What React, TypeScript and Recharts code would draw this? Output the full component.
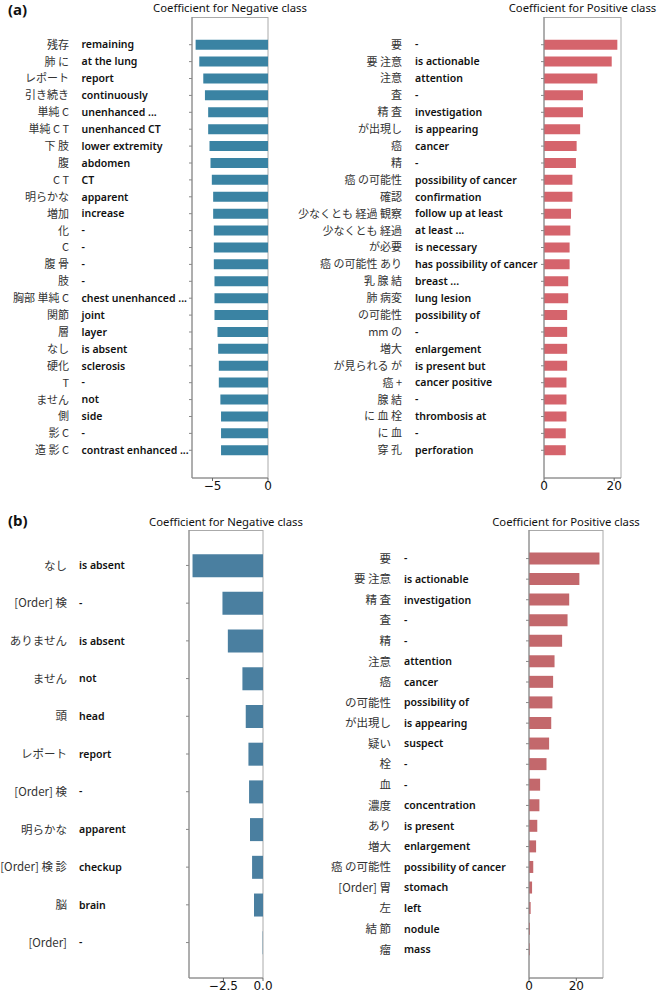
import React from 'react';
import { BarChart, Bar, XAxis, YAxis, CartesianGrid } from 'recharts';

// ---------- (a) Negative class ----------
const aNegJa = ['残存', '肺 に', 'レポート', '引き続き', '単純 C', '単純 C T', '下 肢', '腹', 'C T', '明らかな', '増加', '化', 'C', '腹 骨', '肢', '胸部 単純 C', '関節', '層', 'なし', '硬化', 'T', 'ません', '側', '影 C', '造 影 C'];
const aNegEn = ['remaining', 'at the lung', 'report', 'continuously', 'unenhanced ...', 'unenhanced CT', 'lower extremity', 'abdomen', 'CT', 'apparent', 'increase', '-', '-', '-', '-', 'chest unenhanced ...', 'joint', 'layer', 'is absent', 'sclerosis', '-', 'not', 'side', '-', 'contrast enhanced ...'];
const aNegVal = [-6.52, -6.19, -5.83, -5.68, -5.39, -5.39, -5.27, -5.18, -5.06, -4.94, -4.94, -4.88, -4.88, -4.88, -4.82, -4.82, -4.82, -4.55, -4.49, -4.43, -4.43, -4.29, -4.23, -4.23, -4.23];
const aNegTicks = [-5, 0];

// ---------- (a) Positive class ----------
const aPosJa = ['要', '要 注意', '注意', '査', '精 査', 'が出現し', '癌', '精', '癌 の可能性', '確認', '少なくとも 経過 観察', '少なくとも 経過', 'が必要', '癌 の可能性 あり', '乳 腺 結', '肺 病変', 'の可能性', 'mm の', '増大', 'が見られる が', '癌 +', '腺 結', 'に 血 栓', 'に 血', '穿 孔'];
const aPosEn = ['-', 'is actionable', 'attention', '-', 'investigation', 'is appearing', 'cancer', '-', 'possibility of cancer', 'confirmation', 'follow up at least', 'at least ...', 'is necessary', 'has possibility of cancer', 'breast ...', 'lung lesion', 'possibility of', '-', 'enlargement', 'is present but', 'cancer positive', '-', 'thrombosis at', '-', 'perforation'];
const aPosVal = [20.9, 19.3, 15.2, 11.1, 11.1, 10.3, 9.3, 9.1, 8.1, 8.1, 7.7, 7.5, 7.3, 7.3, 6.9, 6.9, 6.6, 6.6, 6.6, 6.6, 6.4, 6.4, 6.4, 6.2, 6.2];
const aPosTicks = [0, 20];

// ---------- (b) Negative class ----------
const bNegJa = ['なし', '[Order] 検', 'ありません', 'ません', '頭', 'レポート', '[Order]  検', '明らかな', '[Order]  検 診', '脳', '[Order]'];
const bNegEn = ['is absent', '-', 'is absent', 'not', 'head', 'report', '-', 'apparent', 'checkup', 'brain', '-'];
const bNegVal = [-4.45, -2.56, -2.22, -1.3, -1.09, -0.92, -0.88, -0.82, -0.69, -0.57, -0.02];
const bNegTicks = [-2.5, 0];

// ---------- (b) Positive class ----------
const bPosJa = ['要', '要 注意', '精 査', '査', '精', '注意', '癌', 'の可能性', 'が出現し', '疑い', '栓', '血', '濃度', 'あり', '増大', '癌 の可能性', '[Order] 胃', '左', '結 節', '瘤'];
const bPosEn = ['-', 'is actionable', 'investigation', '-', '-', 'attention', 'cancer', 'possibility of', 'is appearing', 'suspect', '-', '-', 'concentration', 'is present', 'enlargement', 'possibility of cancer', 'stomach', 'left', 'nodule', 'mass'];
const bPosVal = [29.8, 21.3, 17.0, 16.3, 14.0, 10.8, 10.2, 9.9, 9.4, 8.5, 7.4, 4.7, 4.4, 3.5, 3.0, 1.8, 1.3, 0.7, 0.4, 0.3];
const bPosTicks = [0, 20];

const JP_FONT = '"Noto Sans CJK JP", "Noto Sans", sans-serif';
const EN_FONT = '"Noto Sans", "Open Sans", sans-serif';
const NUM_FONT = '"DejaVu Sans", sans-serif';

const fmtInt = (v: number) => (v < 0 ? '\u2212' + Math.abs(v) : String(v));
const fmtDec = (v: number) => (v < 0 ? '\u2212' + Math.abs(v).toFixed(1) : v.toFixed(1));

interface PanelProps {
  ja: string[];
  en: string[];
  vals: number[];
  ticks: number[];
  fmt: (v: number) => string;
  color: string;
  title: string;
  left: number;
  top: number;
  width: number;
  height: number;
  mTop: number;
  yWidth: number;
  mRight: number;
  xHeight: number;
  mBottom: number;
  jaX: number;
  enX: number;
  titleY: number;
  jaSize: number;
}

function Panel(p: PanelProps) {
  const n = p.vals.length;
  const data = p.vals.map((v, i) => ({ k: String(i), v }));
  const neg = Math.min(...p.vals) < 0;
  const domain: [number, number] = neg ? [Math.min(...p.vals) * 1.05, 0] : [0, Math.max(...p.vals) * 1.05];
  const plotH = p.height - p.mTop - p.mBottom - p.xHeight;
  const unit = plotH / (1.1 * (n - 0.2));
  const pad = (0.05 * (n - 0.2) - 0.1) * unit;
  const plotW = p.width - p.yWidth - p.mRight;
  const titleCenter = p.left + p.yWidth + plotW / 2;

  const Tick = (props: any) => {
    const idx = Number(props.payload.value);
    return (
      <g>
        <text x={p.jaX} y={props.y} dy="0.36em" textAnchor="end" fontFamily={JP_FONT} fontSize={p.jaSize} fill="#333">
          {p.ja[idx]}
        </text>
        <text x={p.enX} y={props.y} dy="0.36em" textAnchor="start" fontFamily={EN_FONT} fontWeight={600} fontSize={10.5} fill="#111">
          {p.en[idx]}
        </text>
      </g>
    );
  };

  return (
    <>
      <div
        style={{
          position: 'absolute',
          left: titleCenter - 110,
          top: p.titleY - 8,
          width: 220,
          height: 16,
          lineHeight: '16px',
          textAlign: 'center',
          fontFamily: EN_FONT,
          fontSize: 11.3,
          color: '#111',
          whiteSpace: 'nowrap',
        }}
      >
        {p.title}
      </div>
      <div style={{ position: 'absolute', left: p.left, top: p.top }}>
        <BarChart
          width={p.width}
          height={p.height}
          data={data}
          layout="vertical"
          barCategoryGap="20%"
          margin={{ top: p.mTop, right: p.mRight, bottom: p.mBottom, left: 0 }}
        >
          <CartesianGrid
            stroke="#aaa"
            strokeWidth={1}
            horizontalCoordinatesGenerator={({ offset }: any) => [offset.top + 0.5, offset.top + offset.height]}
            verticalCoordinatesGenerator={({ offset }: any) => [offset.left, offset.left + offset.width]}
          />
          <XAxis
            type="number"
            dataKey="v"
            domain={domain}
            ticks={p.ticks}
            tickFormatter={p.fmt}
            height={p.xHeight}
            allowDataOverflow
            tickSize={3}
            tickMargin={0}
            axisLine={{ stroke: '#888' }}
            tickLine={{ stroke: '#666' }}
            tick={{ fontFamily: NUM_FONT, fontSize: 12, fill: '#111' }}
          />
          <YAxis
            type="category"
            dataKey="k"
            width={p.yWidth}
            interval={0}
            padding={{ top: pad, bottom: pad }}
            tickSize={3}
            tickMargin={2}
            axisLine={{ stroke: '#888' }}
            tickLine={{ stroke: '#888' }}
            tick={<Tick />}
          />
          <Bar dataKey="v" fill={p.color} isAnimationActive={false} />
        </BarChart>
      </div>
    </>
  );
}

export default function App() {
  return (
    <div style={{ position: 'absolute', left: 0, top: 0, width: 657, height: 992, background: '#fff', overflow: 'hidden' }}>
      <div style={{ position: 'absolute', left: 8, top: 0, fontFamily: EN_FONT, fontWeight: 700, fontSize: 15, lineHeight: '18px', color: '#111' }}>(a)</div>
      <div style={{ position: 'absolute', left: 8, top: 511, fontFamily: EN_FONT, fontWeight: 700, fontSize: 15, lineHeight: '18px', color: '#111' }}>(b)</div>
      <Panel ja={aNegJa} en={aNegEn} vals={aNegVal} ticks={aNegTicks} fmt={fmtInt} color="#3a83a3" title="Coefficient for Negative class"
        left={0} top={0} width={300} height={500} mTop={17} yWidth={192} mRight={32} xHeight={20} mBottom={2} jaX={69} enX={81.5} titleY={8} jaSize={11} />
      <Panel ja={aPosJa} en={aPosEn} vals={aPosVal} ticks={aPosTicks} fmt={fmtInt} color="#d5646c" title="Coefficient for Positive class"
        left={290} top={0} width={360} height={500} mTop={17} yWidth={254} mRight={29} xHeight={20} mBottom={2} jaX={112} enX={125} titleY={8} jaSize={11} />
      <Panel ja={bNegJa} en={bNegEn} vals={bNegVal} ticks={bNegTicks} fmt={fmtDec} color="#4a7fa0" title="Coefficient for Negative class"
        left={0} top={510} width={300} height={482} mTop={20} yWidth={189} mRight={37} xHeight={14} mBottom={0} jaX={67} enX={79} titleY={522} jaSize={11.5} />
      <Panel ja={bPosJa} en={bPosEn} vals={bPosVal} ticks={bPosTicks} fmt={fmtInt} color="#c3686c" title="Coefficient for Positive class"
        left={300} top={510} width={350} height={482} mTop={20} yWidth={229} mRight={47} xHeight={14} mBottom={0} jaX={91} enX={104} titleY={522} jaSize={11.5} />
    </div>
  );
}
